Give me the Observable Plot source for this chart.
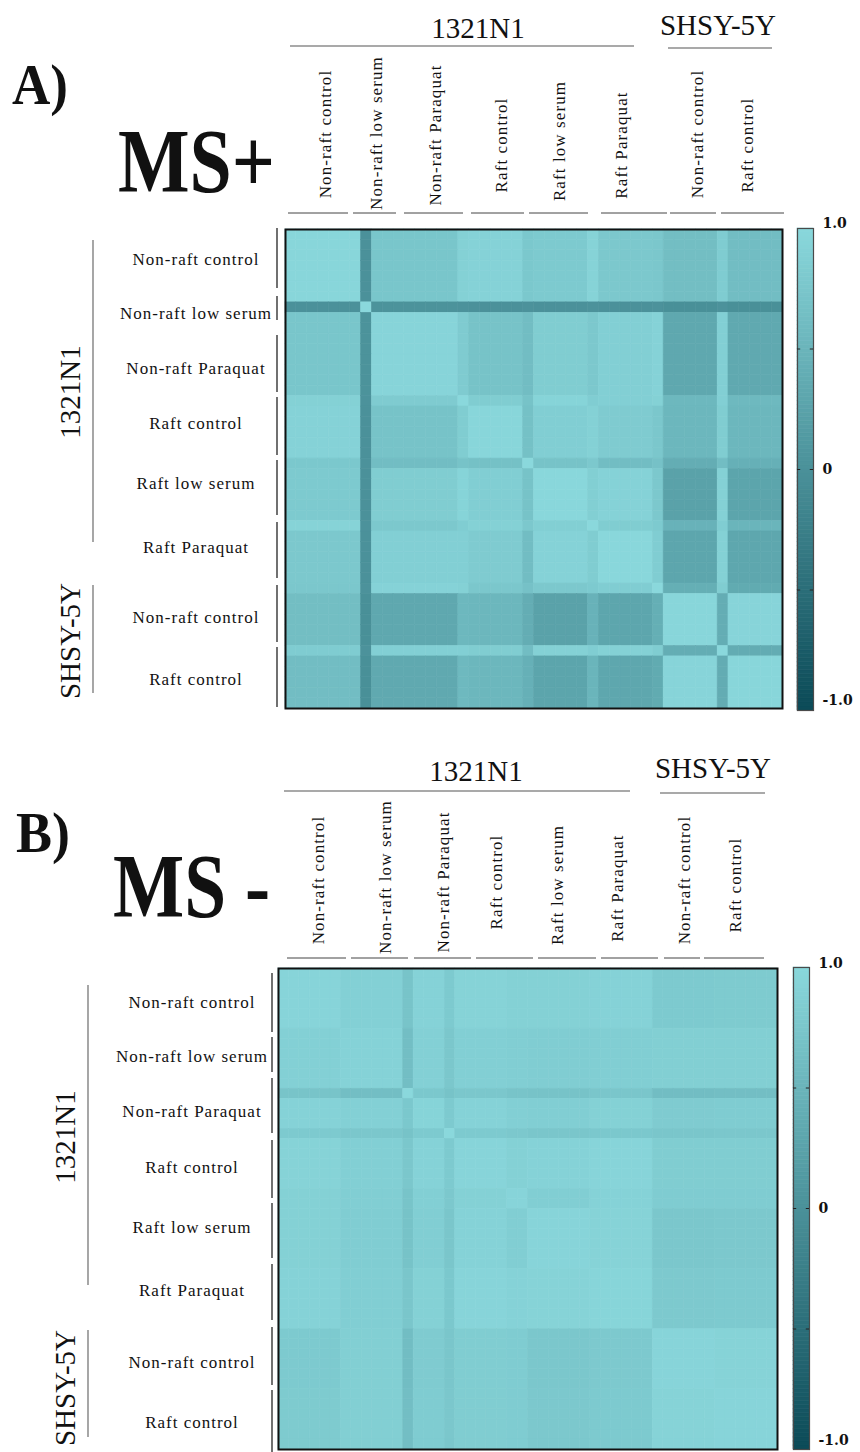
<!DOCTYPE html>
<html>
<head>
<meta charset="utf-8">
<script src="https://cdn.jsdelivr.net/npm/d3@7"></script>
<script src="https://cdn.jsdelivr.net/npm/@observablehq/plot@0.6"></script>
<style>
  html, body { margin: 0; padding: 0; background: #fff; }
  #fig { position: relative; width: 860px; height: 1452px; overflow: hidden; background: #fff; }
  #fig svg { position: absolute; }
</style>
</head>
<body>
<div id="fig"></div>
<script>
// ---------------- DATA ----------------
// Panel A (MS+): sample blocks in matrix order and their sizes
const blocksA = ["NRc", "OUT", "NRp", "O16", "Rc", "O22", "Rls", "O28", "Rpq", "O34", "SHn", "O40", "SHr"];
const sizesA  = [7, 1, 8, 1, 5, 1, 5, 1, 5, 1, 5, 1, 5];
// block-to-block Pearson correlations
const corrA = [
  [0.97, 0.00, 0.74, 0.90, 0.92, 0.77, 0.80, 0.93, 0.78, 0.76, 0.63, 0.83, 0.62],
  [0.00, 1.00, 0.03, 0.02, 0.00, 0.02, 0.00, 0.02, 0.00, 0.02, -0.02, 0.02, -0.02],
  [0.74, 0.03, 0.95, 0.82, 0.70, 0.62, 0.84, 0.78, 0.88, 0.92, 0.32, 0.88, 0.34],
  [0.90, 0.02, 0.82, 1.00, 0.84, 0.70, 0.94, 0.85, 0.88, 0.90, 0.55, 0.88, 0.56],
  [0.92, 0.00, 0.70, 0.84, 0.97, 0.67, 0.86, 0.90, 0.82, 0.76, 0.53, 0.84, 0.53],
  [0.77, 0.02, 0.62, 0.70, 0.67, 1.00, 0.70, 0.78, 0.62, 0.68, 0.40, 0.62, 0.44],
  [0.80, 0.00, 0.84, 0.94, 0.86, 0.70, 0.98, 0.87, 0.92, 0.78, 0.24, 0.90, 0.28],
  [0.93, 0.02, 0.78, 0.85, 0.90, 0.78, 0.87, 1.00, 0.84, 0.80, 0.47, 0.85, 0.50],
  [0.78, 0.00, 0.88, 0.88, 0.82, 0.62, 0.92, 0.84, 0.98, 0.85, 0.29, 0.90, 0.31],
  [0.76, 0.02, 0.92, 0.90, 0.76, 0.68, 0.78, 0.80, 0.85, 1.00, 0.42, 0.84, 0.36],
  [0.63, -0.02, 0.32, 0.55, 0.53, 0.40, 0.24, 0.47, 0.29, 0.42, 0.97, 0.40, 0.95],
  [0.83, 0.02, 0.88, 0.88, 0.84, 0.62, 0.90, 0.85, 0.90, 0.84, 0.40, 1.00, 0.38],
  [0.62, -0.02, 0.34, 0.56, 0.53, 0.44, 0.28, 0.50, 0.31, 0.36, 0.95, 0.38, 0.97]
];

// Panel B (MS-)
const blocksB = ["B1", "B2", "BX", "B3", "BY", "B4", "B5", "B6", "B7", "SHn", "SHr"];
const sizesB  = [6, 6, 1, 3, 1, 5, 2, 6, 6, 6, 6];
const corrB = [
  [0.95, 0.89, 0.72, 0.92, 0.80, 0.93, 0.90, 0.90, 0.92, 0.80, 0.81],
  [0.89, 0.92, 0.64, 0.89, 0.76, 0.88, 0.86, 0.85, 0.86, 0.87, 0.87],
  [0.72, 0.64, 1.00, 0.77, 0.70, 0.76, 0.72, 0.70, 0.75, 0.62, 0.64],
  [0.92, 0.89, 0.77, 0.94, 0.80, 0.92, 0.88, 0.86, 0.90, 0.82, 0.83],
  [0.80, 0.76, 0.70, 0.80, 1.00, 0.80, 0.78, 0.75, 0.77, 0.75, 0.76],
  [0.93, 0.88, 0.76, 0.92, 0.80, 0.95, 0.90, 0.92, 0.95, 0.84, 0.84],
  [0.90, 0.86, 0.72, 0.88, 0.78, 0.90, 0.95, 0.86, 0.92, 0.83, 0.83],
  [0.90, 0.85, 0.70, 0.86, 0.75, 0.92, 0.86, 0.95, 0.93, 0.76, 0.78],
  [0.92, 0.86, 0.75, 0.90, 0.77, 0.95, 0.92, 0.93, 0.96, 0.79, 0.80],
  [0.80, 0.87, 0.62, 0.82, 0.75, 0.84, 0.83, 0.76, 0.79, 0.95, 0.93],
  [0.81, 0.87, 0.64, 0.83, 0.76, 0.84, 0.83, 0.78, 0.80, 0.93, 0.95]
];

const conditionLabels = ["Non-raft control", "Non-raft low serum", "Non-raft Paraquat", "Raft control",
                         "Raft low serum", "Raft Paraquat", "Non-raft control", "Raft control"];
const cellLines = ["1321N1", "SHSY-5Y"];
const panelTags = ["A)", "B)"];
const panelTitles = ["MS+", "MS -"];
const colorTicks = [1, 0, -1];
const colorTickLabels = ["1.0", "0", "-1.0"];
const colorGuides = [-0.5, 0, 0.5];

// ---------------- STYLE / LAYOUT ----------------
const SERIF = "'Liberation Serif', 'Times New Roman', serif";
const NUMFONT = "'DejaVu Serif', serif";
const DARK = "#0b4a57", LIGHT = "#8ad8dc";
const colorScale = {type: "linear", domain: [-1, 1], range: [DARK, LIGHT], interpolate: "rgb"};

const layouts = [
  { // panel A
    top: 0, plotH: 740, mL: 285, mR: 78, mT: 229, mB: 32,
    cbLeft: 790, cbTop: 210, cbDy: [-5, 0, -10],
    tag: [12, 104, 56], title: [118, 192, 157],
    lineLabels: [[478, 38], [718, 35]], lineRules: [[290, 634, 46], [668, 772, 48]],
    colX: [325, 376, 435, 501, 559, 621, 697, 747], colY: [134, 133, 135, 145, 141, 145, 134, 145],
    underY: 213, under: [[288,348],[353,396],[404,463],[471,524],[529,588],[601,667],[670,716],[721,784]],
    rowX: 196, rowY: [259, 313, 368, 423, 483, 547, 617, 679],
    brX: 277, br: [[228,288],[296,320],[335,392],[397,455],[460,515],[522,578],[585,642],[647,707]],
    grX: 93, gr: [[240,542],[585,693]], grLX: 70, grLY: [392, 641]
  },
  { // panel B
    top: 740, plotH: 712, mL: 278, mR: 83, mT: 228, mB: 3,
    cbLeft: 786, cbTop: 949, cbDy: [-4, 0, -9],
    tag: [16, 852, 54], title: [113, 917, 157],
    lineLabels: [[476, 781], [713, 778]], lineRules: [[284, 630, 791], [660, 765, 793]],
    colX: [318, 385, 443, 496, 557, 617, 684, 735], colY: [880, 877, 882, 882, 885, 888, 880, 885],
    underY: 958, under: [[287,346],[351,408],[414,471],[476,533],[538,596],[601,658],[664,700],[704,764]],
    rowX: 192, rowY: [1002, 1056, 1111, 1167, 1227, 1290, 1362, 1422],
    brX: 272, br: [[973,1032],[1037,1072],[1078,1133],[1140,1198],[1203,1258],[1264,1320],[1327,1385],[1390,1452]],
    grX: 88, gr: [[985,1285],[1330,1437]], grLX: 65, grLY: [1137, 1388]
  }
];

// ---------------- BUILD ----------------
const fig = document.getElementById("fig");

function expand(sizes) {
  const out = [];
  sizes.forEach((n, k) => { for (let c = 0; c < n; c++) out.push(k); });
  return out;
}
function cellsOf(sizes, corr) {
  const s = expand(sizes), cells = [];
  s.forEach((bi, i) => s.forEach((bj, j) => cells.push({row: i, col: j, value: corr[bi][bj]})));
  return {cells, n: s.length};
}

function place(svg, left, top) {
  svg.style.position = "absolute";
  svg.style.left = left + "px";
  svg.style.top = top + "px";
  svg.style.maxWidth = "none";
  fig.appendChild(svg);
}

function heatmap(sizes, corr, L) {
  const {cells, n} = cellsOf(sizes, corr);
  const svg = Plot.plot({
    width: 860, height: L.plotH,
    marginLeft: L.mL, marginRight: L.mR, marginTop: L.mT, marginBottom: L.mB,
    style: {background: "transparent"},
    x: {type: "band", domain: d3.range(n), padding: 0, round: false, axis: null},
    y: {type: "band", domain: d3.range(n), padding: 0, round: false, axis: null},
    color: colorScale,
    marks: [
      Plot.cell(cells, {x: "col", y: "row", fill: "value", stroke: "value", strokeWidth: 0.6, inset: 0}),
      Plot.frame({stroke: "#111", strokeWidth: 2})
    ]
  });
  place(svg, 0, L.top);
}

function colorbar(L) {
  const steps = d3.range(0, 120).map(i => ({y1: -1 + i * 2 / 120, y2: -1 + (i + 1) * 2 / 120}));
  const textMarks = colorTicks.map((t, k) =>
    Plot.text([t], {x: 1, y: d => d, text: () => colorTickLabels[k], dx: 9, dy: L.cbDy[k],
      textAnchor: "start", fontFamily: NUMFONT, fontWeight: "bold", fontSize: 14, fill: "#111"}));
  const svg = Plot.plot({
    width: 70, height: 520,
    marginLeft: 7, marginRight: 47, marginTop: 18, marginBottom: 520 - 18 - 482,
    style: {background: "transparent", overflow: "visible"},
    x: {domain: [0, 1], axis: null},
    y: {domain: [-1, 1], axis: null},
    color: colorScale,
    marks: [
      Plot.rect(steps, {x1: 0, x2: 1, y1: "y1", y2: "y2", fill: d => (d.y1 + d.y2) / 2, stroke: d => (d.y1 + d.y2) / 2, strokeWidth: 0.6}),
      Plot.frame({stroke: "#4a4a4a", strokeWidth: 1.2}),
      Plot.ruleY(colorGuides, {x1: 0, x2: 0.2, stroke: "#222", strokeWidth: 1}),
      Plot.ruleY(colorGuides, {x1: 0.8, x2: 1, stroke: "#222", strokeWidth: 1}),
      ...textMarks
    ]
  });
  place(svg, L.cbLeft, L.cbTop);
}

[[sizesA, corrA], [sizesB, corrB]].forEach(([s, c], p) => {
  heatmap(s, c, layouts[p]);
  colorbar(layouts[p]);
});

// ---------------- ANNOTATIONS ----------------
const ov = d3.select(fig).append("svg")
  .attr("width", 860).attr("height", 1452)
  .style("left", "0px").style("top", "0px").style("pointer-events", "none");

function text(x, y, s, o = {}) {
  const t = ov.append("text")
    .attr("x", x).attr("y", y)
    .attr("font-family", o.family || SERIF)
    .attr("font-size", o.size || 17)
    .attr("font-weight", o.weight || "normal")
    .attr("text-anchor", o.anchor || "middle")
    .attr("fill", o.fill || "#111")
    .text(s);
  if (o.middle) t.attr("dy", "0.35em");
  if (o.ls) t.attr("letter-spacing", o.ls);
  if (o.len) t.attr("textLength", o.len).attr("lengthAdjust", "spacingAndGlyphs");
  if (o.rotate) t.attr("transform", `rotate(${o.rotate},${x},${y})`);
  return t;
}
function line(x1, y1, x2, y2, stroke = "#333", w = 1) {
  ov.append("line").attr("x1", x1).attr("y1", y1).attr("x2", x2).attr("y2", y2)
    .attr("stroke", stroke).attr("stroke-width", w);
}

layouts.forEach((L, p) => {
  // panel tag and title
  text(L.tag[0], L.tag[1], panelTags[p], {size: 58, weight: "bold", anchor: "start", len: L.tag[2]});
  text(L.title[0], L.title[1], panelTitles[p], {size: 90, weight: "bold", anchor: "start", len: L.title[2]});
  // cell line headers on top
  cellLines.forEach((c, k) => {
    text(L.lineLabels[k][0], L.lineLabels[k][1], c, {size: 29});
    const r = L.lineRules[k];
    line(r[0], r[2], r[1], r[2], "#555", 1.2);
  });
  // column labels (rotated)
  conditionLabels.forEach((c, k) => {
    text(L.colX[k], L.colY[k], c, {size: 17, rotate: -90, middle: true, ls: 1.1});
    const u = L.under[k];
    line(u[0], L.underY, u[1], L.underY, "#444", 1);
  });
  // row labels
  conditionLabels.forEach((c, k) => {
    text(L.rowX, L.rowY[k], c, {size: 17, middle: true, ls: 1.0});
    const b = L.br[k];
    line(L.brX, b[0], L.brX, b[1], "#111", 1.2);
  });
  // cell line groups on the left
  cellLines.forEach((c, k) => {
    const g = L.gr[k];
    line(L.grX, g[0], L.grX, g[1], "#777", 1.3);
    text(L.grLX, L.grLY[k], c, {size: 29, rotate: -90, middle: true});
  });
});
</script>
</body>
</html>
